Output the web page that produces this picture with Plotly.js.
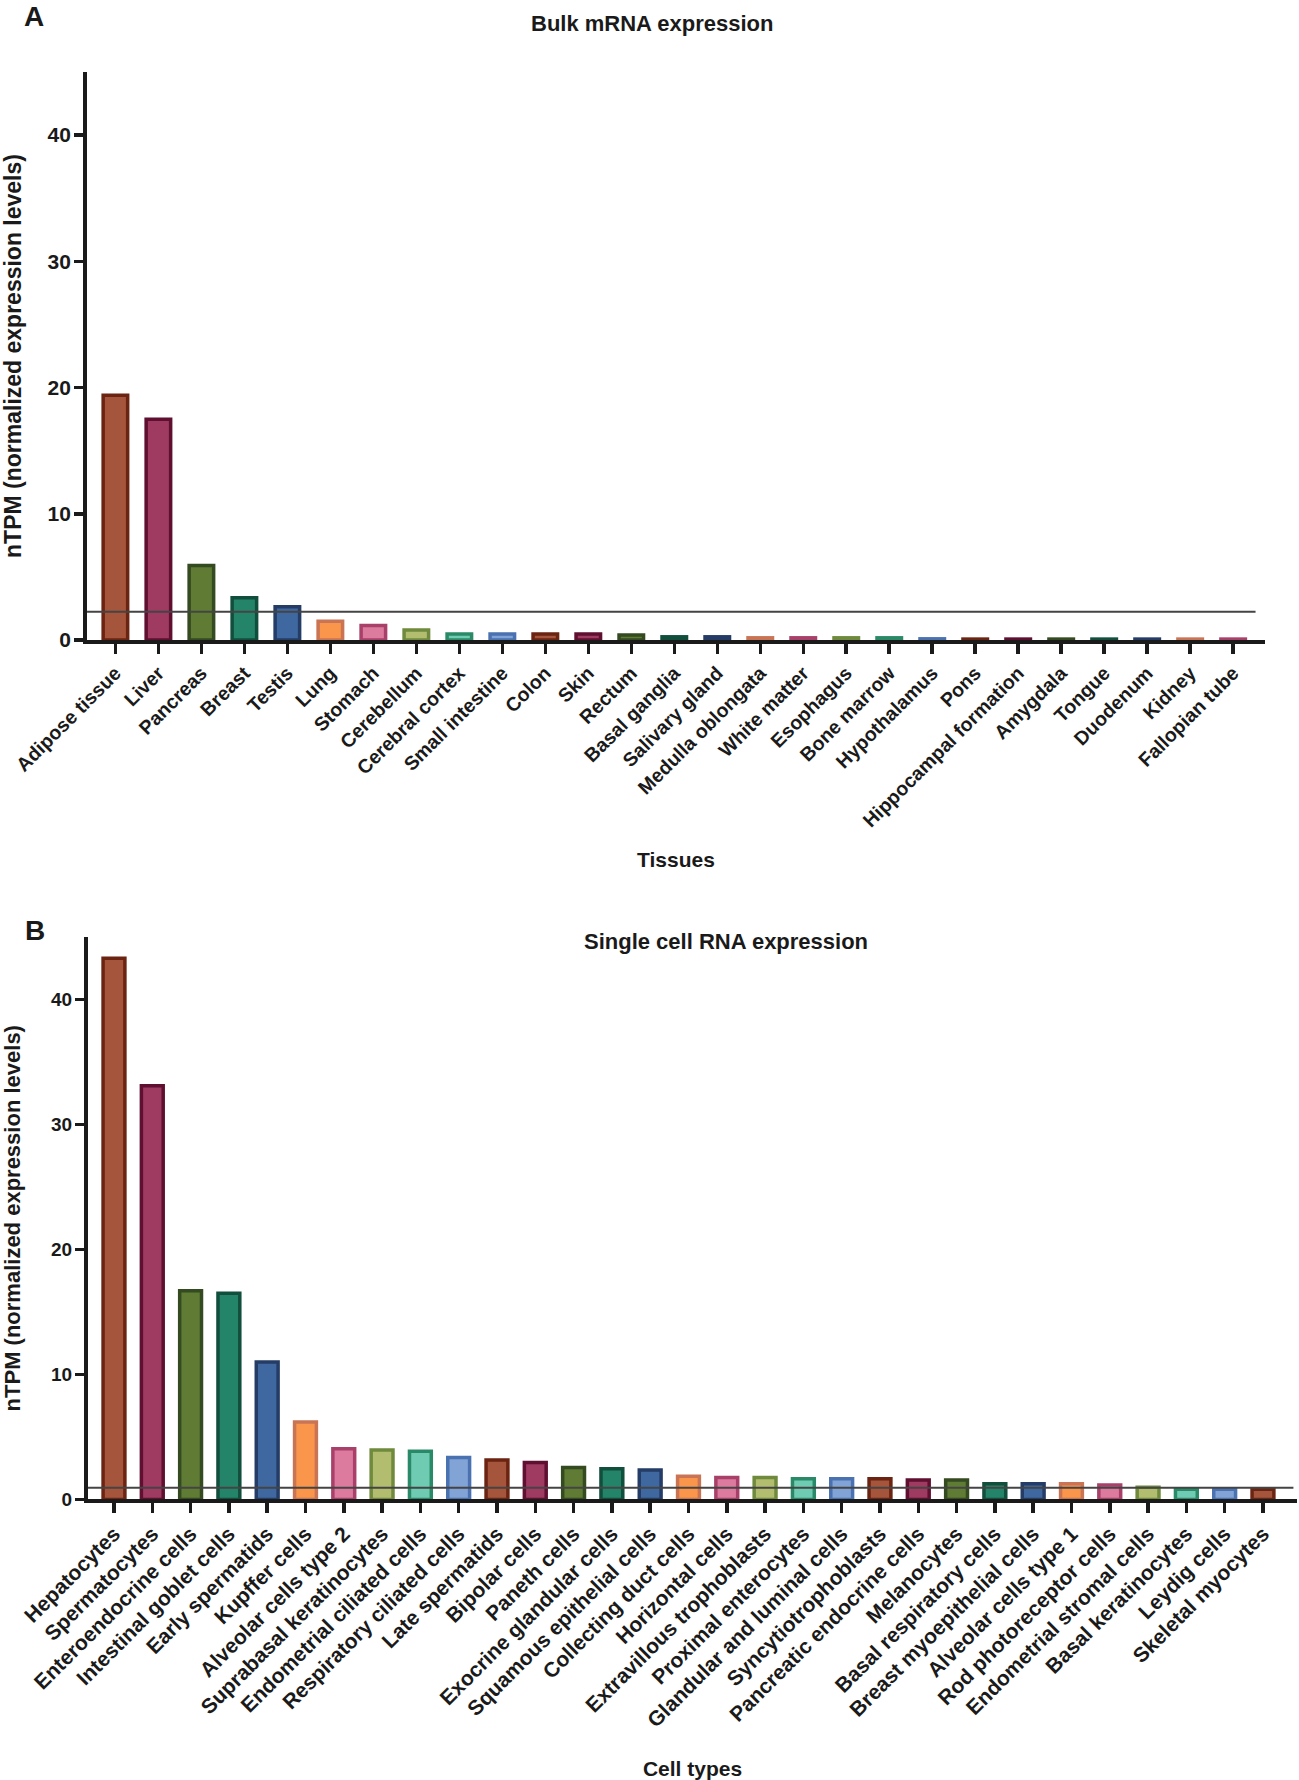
<!DOCTYPE html>
<html>
<head>
<meta charset="utf-8">
<script src="https://cdn.plot.ly/plotly-3.0.1.min.js"></script>
<style>
  html, body { margin: 0; padding: 0; background: #fff; }
  #chart { width: 1299px; height: 1780px; }
</style>
</head>
<body>
<div id="chart"></div>
<script>
// panel A: bulk tissue data
const tissues = [
  "Adipose tissue", "Liver", "Pancreas", "Breast", "Testis", "Lung", "Stomach",
  "Cerebellum", "Cerebral cortex", "Small intestine", "Colon", "Skin", "Rectum",
  "Basal ganglia", "Salivary gland", "Medulla oblongata", "White matter",
  "Esophagus", "Bone marrow", "Hypothalamus", "Pons", "Hippocampal formation",
  "Amygdala", "Tongue", "Duodenum", "Kidney", "Fallopian tube"
];
const tissueNtpm = [
  19.4, 17.5, 5.9, 3.35, 2.65, 1.5, 1.15, 0.8, 0.48, 0.48, 0.48, 0.48, 0.4,
  0.26, 0.26, 0.18, 0.18, 0.18, 0.18, 0.1, 0.08, 0.08, 0.08, 0.08, 0.08, 0.08, 0.08
];
const tissueCutoff = 2.25;

// panel B: single cell data
const cellTypes = [
  "Hepatocytes", "Spermatocytes", "Enteroendocrine cells", "Intestinal goblet cells",
  "Early spermatids", "Kupffer cells", "Alveolar cells type 2", "Suprabasal keratinocytes",
  "Endometrial ciliated cells", "Respiratory ciliated cells", "Late spermatids",
  "Bipolar cells", "Paneth cells", "Exocrine glandular cells", "Squamous epithelial cells",
  "Collecting duct cells", "Horizontal cells", "Extravillous trophoblasts",
  "Proximal enterocytes", "Glandular and luminal cells", "Syncytiotrophoblasts",
  "Pancreatic endocrine cells", "Melanocytes", "Basal respiratory cells",
  "Breast myoepithelial cells", "Alveolar cells type 1", "Rod photoreceptor cells",
  "Endometrial stromal cells", "Basal keratinocytes", "Leydig cells", "Skeletal myocytes"
];
const cellNtpm = [
  43.3, 33.1, 16.7, 16.5, 11.0, 6.2, 4.05, 3.95, 3.85, 3.35, 3.15, 2.95, 2.55,
  2.45, 2.35, 1.85, 1.75, 1.75, 1.65, 1.65, 1.65, 1.55, 1.55, 1.25, 1.25, 1.25,
  1.15, 0.98, 0.82, 0.82, 0.82
];
const cellCutoff = 0.93;

const fills = ["#a5553b", "#9f3a61", "#5f7b34", "#24846a", "#3f68a0",
               "#f9964b", "#dc7b9d", "#b3bd6f", "#6fcbb2", "#82a3d6"];
const edges = ["#6b2412", "#5f0f30", "#344a20", "#124e3c", "#243c66",
               "#c97555", "#a8406a", "#6f8a3c", "#2a8a68", "#4a72b0"];

const ink = "#1a1a1a";
const fam = "Liberation Sans, Arial, sans-serif";

function cycle(list, n) {
  return Array.from({ length: n }, (_, i) => list[i % list.length]);
}

const data = [
  {
    type: "bar",
    x: tissues,
    y: tissueNtpm,
    xaxis: "x",
    yaxis: "y",
    width: 0.57,
    marker: {
      color: cycle(fills, tissues.length),
      line: { color: cycle(edges, tissues.length), width: 3.5 }
    },
    hoverinfo: "x+y"
  },
  {
    type: "bar",
    x: cellTypes,
    y: cellNtpm,
    xaxis: "x2",
    yaxis: "y2",
    width: 0.57,
    marker: {
      color: cycle(fills, cellTypes.length),
      line: { color: cycle(edges, cellTypes.length), width: 3.5 }
    },
    hoverinfo: "x+y"
  }
];

function yAxis(domain, anchor, tickSize, titleSize) {
  return {
    domain: domain,
    anchor: anchor,
    range: [0, 45],
    tickvals: [0, 10, 20, 30, 40],
    ticks: "outside",
    ticklen: 9,
    tickwidth: 3.5,
    tickcolor: ink,
    ticklabelstandoff: -1,
    showline: true,
    linewidth: 4,
    linecolor: ink,
    showgrid: false,
    zeroline: false,
    tickfont: { family: fam, size: tickSize, color: ink, weight: 700 },
    title: {
      text: "nTPM (normalized expression levels)",
      font: { family: fam, size: titleSize, color: ink, weight: 700 },
      standoff: 25
    }
  };
}

function xAxis(domain, anchor, range, tickSize, title, standoff) {
  return {
    domain: domain,
    anchor: anchor,
    type: "category",
    range: range,
    tickangle: -45,
    ticks: "outside",
    ticklen: 10,
    tickwidth: 3.5,
    tickcolor: ink,
    showline: true,
    linewidth: 4,
    linecolor: ink,
    showgrid: false,
    zeroline: false,
    tickfont: { family: fam, size: tickSize, color: ink, weight: 700 },
    title: {
      text: title,
      font: { family: fam, size: 21, color: ink, weight: 700 },
      standoff: standoff
    }
  };
}

const layout = {
  width: 1299,
  height: 1780,
  margin: { l: 0, r: 0, t: 0, b: 0 },
  paper_bgcolor: "#ffffff",
  plot_bgcolor: "#ffffff",
  showlegend: false,
  xaxis: xAxis([0.067, 0.9738], "y", [-0.66, 26.74], 19.5, "Tissues", 23),
  yaxis: yAxis([0.6404, 0.9596], "x", 21, 23),
  xaxis2: xAxis([0.0677, 0.9985], "y2", [-0.68, 30.89], 21, "Cell types", 38),
  yaxis2: yAxis([0.1576, 0.4736], "x2", 19, 22),
  shapes: [
    {
      type: "line", layer: "above",
      xref: "x domain", x0: 0, x1: 0.992,
      yref: "y", y0: tissueCutoff, y1: tissueCutoff,
      line: { color: "#444", width: 2 }
    },
    {
      type: "line", layer: "above",
      xref: "x2 domain", x0: 0, x1: 0.997,
      yref: "y2", y0: cellCutoff, y1: cellCutoff,
      line: { color: "#444", width: 2 }
    }
  ],
  annotations: [
    {
      text: "A", xref: "paper", yref: "paper", x: 0.0262, y: 0.991,
      showarrow: false, xanchor: "center", yanchor: "middle",
      font: { family: fam, size: 28, color: ink, weight: 700 }
    },
    {
      text: "B", xref: "paper", yref: "paper", x: 0.027, y: 0.4775,
      showarrow: false, xanchor: "center", yanchor: "middle",
      font: { family: fam, size: 28, color: ink, weight: 700 }
    },
    {
      text: "Bulk mRNA expression", xref: "paper", yref: "paper", x: 0.502, y: 0.987,
      showarrow: false, xanchor: "center", yanchor: "middle",
      font: { family: fam, size: 22, color: ink, weight: 700 }
    },
    {
      text: "Single cell RNA expression", xref: "paper", yref: "paper", x: 0.559, y: 0.4708,
      showarrow: false, xanchor: "center", yanchor: "middle",
      font: { family: fam, size: 22, color: ink, weight: 700 }
    }
  ]
};

Plotly.newPlot("chart", data, layout, { staticPlot: true });
</script>
</body>
</html>
